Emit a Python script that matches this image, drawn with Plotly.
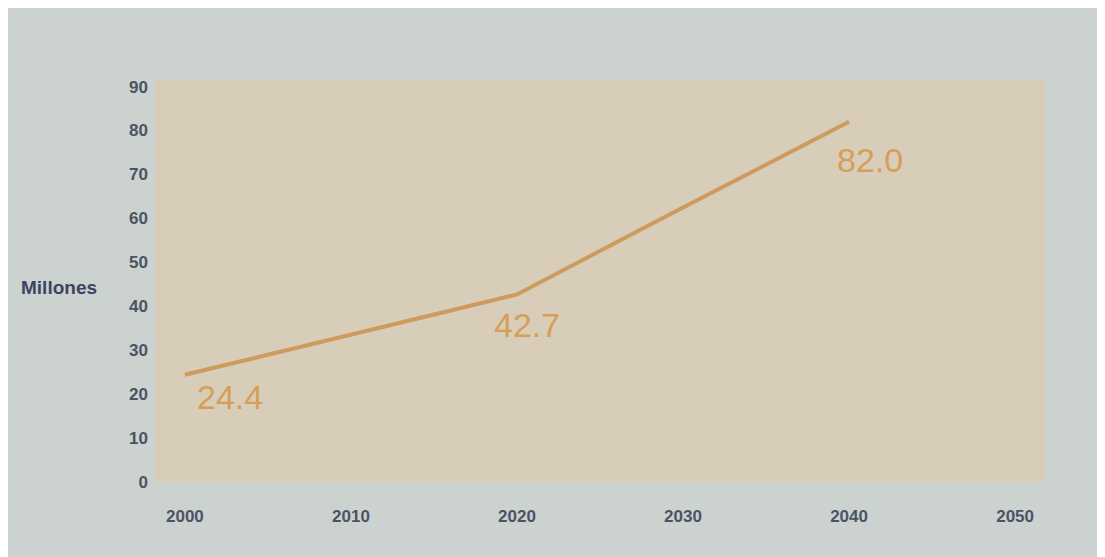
import plotly.graph_objects as go

years = [2000, 2010, 2020, 2030, 2040]
millones = [24.4, 33.5, 42.7, 62.5, 82.0]
label_years = [2000, 2020, 2040]
label_values = [24.4, 42.7, 82.0]
label_texts = ["24.4", "42.7", "82.0"]
x_ticks = [2000, 2010, 2020, 2030, 2040, 2050]
y_ticks = [0, 10, 20, 30, 40, 50, 60, 70, 80, 90]

label_shift = [(45, -22), (10, -31), (21, -38)]

fig = go.Figure()
fig.add_trace(go.Scatter(
    x=years, y=millones, mode="lines",
    line=dict(color="#cf9a5e", width=4),
    hoverinfo="skip", showlegend=False,
))

annotations = []
for xv, yv, t, (dx, dy) in zip(label_years, label_values, label_texts, label_shift):
    annotations.append(dict(x=xv, y=yv, xref="x", yref="y", text=t, showarrow=False,
                            xshift=dx, yshift=dy,
                            font=dict(family="Liberation Sans", size=34, color="#d69e58")))
annotations.append(dict(text="<b>Millones</b>", x=-0.153, y=0.485, xref="paper", yref="paper",
                        xanchor="left", showarrow=False,
                        font=dict(family="Liberation Sans", size=19, color="#3c4462")))

fig.update_layout(
    width=1097, height=549,
    margin=dict(l=147, r=60, t=72, b=75),
    paper_bgcolor="#cbd2cf",
    plot_bgcolor="#d8cdb8",
    xaxis=dict(range=[1998.2, 2051.8], tickvals=x_ticks, showgrid=False, zeroline=False,
               showline=False, ticks="", ticklabelstandoff=22,
               tickfont=dict(family="Liberation Sans", size=17, color="#4b5364", weight="bold")),
    yaxis=dict(range=[0, 91.5], tickvals=y_ticks, showgrid=False, zeroline=False,
               showline=False, ticks="", ticklabelstandoff=6,
               tickfont=dict(family="Liberation Sans", size=17, color="#4b5364", weight="bold")),
    annotations=annotations,
)

fig.write_html("out.html")
